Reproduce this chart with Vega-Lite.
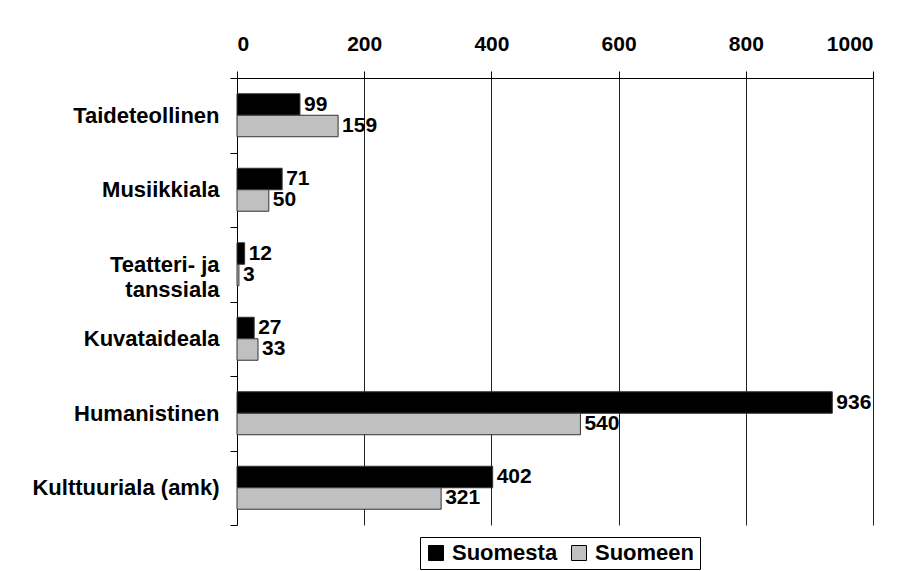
{
  "$schema": "https://vega.github.io/schema/vega-lite/v6.json",
  "width": 636,
  "height": 447,
  "autosize": {"type": "none"},
  "padding": {"left": 237, "top": 78, "right": 36, "bottom": 46},
  "background": "white",
  "config": {"view": {"stroke": null}, "font": "Liberation Sans"},
  "data": {"values": [
    {"category": "Taideteollinen", "series": "Suomesta", "value": 99},
    {"category": "Taideteollinen", "series": "Suomeen", "value": 159},
    {"category": "Musiikkiala", "series": "Suomesta", "value": 71},
    {"category": "Musiikkiala", "series": "Suomeen", "value": 50},
    {"category": "Teatteri- ja tanssiala", "series": "Suomesta", "value": 12},
    {"category": "Teatteri- ja tanssiala", "series": "Suomeen", "value": 3},
    {"category": "Kuvataideala", "series": "Suomesta", "value": 27},
    {"category": "Kuvataideala", "series": "Suomeen", "value": 33},
    {"category": "Humanistinen", "series": "Suomesta", "value": 936},
    {"category": "Humanistinen", "series": "Suomeen", "value": 540},
    {"category": "Kulttuuriala (amk)", "series": "Suomesta", "value": 402},
    {"category": "Kulttuuriala (amk)", "series": "Suomeen", "value": 321}
  ]},
  "encoding": {
    "y": {
      "field": "category",
      "type": "nominal",
      "sort": ["Taideteollinen", "Musiikkiala", "Teatteri- ja tanssiala", "Kuvataideala", "Humanistinen", "Kulttuuriala (amk)"],
      "scale": {"paddingInner": 0, "paddingOuter": 0},
      "axis": {
        "title": null,
        "tickBand": "extent",
        "domainColor": "#000",
        "tickColor": "#000",
        "tickSize": 7,
        "labelFontSize": 22,
        "labelFontWeight": "bold",
        "labelColor": "#000",
        "labelPadding": 11,
        "labelLimit": 300,
        "labelLineHeight": 25,
        "labelExpr": "datum.value == 'Teatteri- ja tanssiala' ? ['Teatteri- ja', 'tanssiala'] : datum.value",
        "grid": false
      }
    },
    "yOffset": {
      "field": "series",
      "sort": ["Suomesta", "Suomeen"],
      "scale": {"paddingInner": 0, "paddingOuter": 0.7326}
    }
  },
  "layer": [
    {
      "mark": {"type": "bar", "stroke": "#333", "strokeWidth": 1},
      "encoding": {
        "x": {
          "field": "value",
          "type": "quantitative",
          "scale": {"domain": [0, 1000]},
          "axis": {
            "orient": "top",
            "title": null,
            "values": [0, 200, 400, 600, 800, 1000],
            "format": "d",
            "domainColor": "#000",
            "tickColor": "#000",
            "tickSize": 7,
            "labelFontSize": 21,
            "labelFontWeight": "bold",
            "labelColor": "#000",
            "labelPadding": 17,
            "grid": true,
            "gridColor": "#222",
            "gridOpacity": 1
          }
        },
        "color": {
          "field": "series",
          "type": "nominal",
          "scale": {"domain": ["Suomesta", "Suomeen"], "range": ["#000000", "#c0c0c0"]},
          "legend": {
            "title": null,
            "orient": "none",
            "legendX": 183,
            "legendY": 459,
            "direction": "horizontal",
            "strokeColor": "#000",
            "fillColor": "white",
            "padding": 5,
            "symbolType": "square",
            "symbolSize": 225,
            "symbolStrokeColor": "#000",
            "symbolStrokeWidth": 1,
            "symbolOpacity": 1,
            "labelOffset": 5,
            "labelFontSize": 22,
            "labelFontWeight": "bold",
            "labelColor": "#000",
            "columnPadding": 10
          }
        }
      }
    },
    {
      "mark": {"type": "text", "align": "left", "baseline": "middle", "dx": 4, "fontSize": 21, "fontWeight": "bold", "color": "#000"},
      "encoding": {
        "x": {"field": "value", "type": "quantitative"},
        "text": {"field": "value"}
      }
    }
  ]
}
